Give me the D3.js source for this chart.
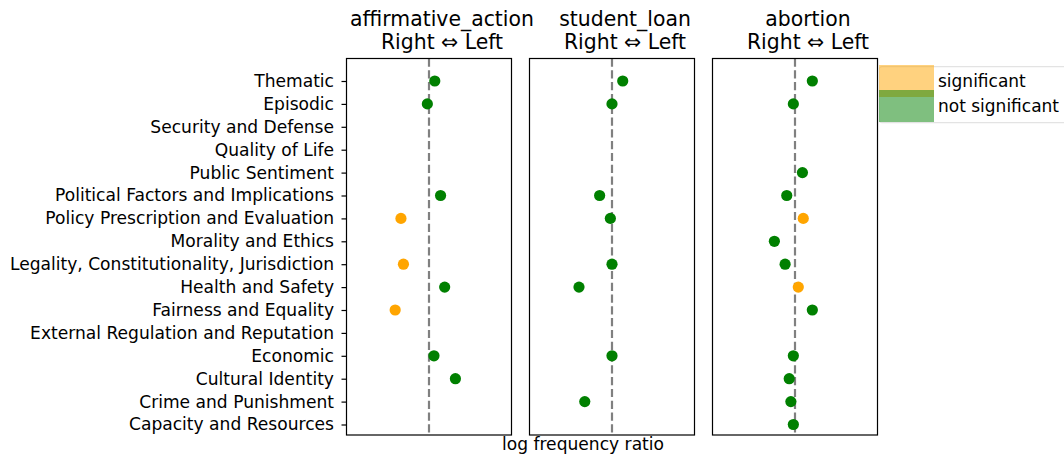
<!DOCTYPE html>
<html>
<head>
<meta charset="utf-8">
<script src="https://cdn.jsdelivr.net/npm/d3@7"></script>
<style>
  body { margin: 0; background: #fff; }
  svg { font-family: 'DejaVu Sans', sans-serif; }
</style>
</head>
<body>
<div id="chart"></div>
<script>
// frame categories, top to bottom
const categories = [
  'Thematic',
  'Episodic',
  'Security and Defense',
  'Quality of Life',
  'Public Sentiment',
  'Political Factors and Implications',
  'Policy Prescription and Evaluation',
  'Morality and Ethics',
  'Legality, Constitutionality, Jurisdiction',
  'Health and Safety',
  'Fairness and Equality',
  'External Regulation and Reputation',
  'Economic',
  'Cultural Identity',
  'Crime and Punishment',
  'Capacity and Resources',
];

const topics = ['affirmative_action', 'student_loan', 'abortion'];

// log frequency ratio per category (null = not shown)
const affirmativeValues = [0.07, -0.02, null, null, null, 0.14, -0.34, null, -0.31, 0.19, -0.41, null, 0.06, 0.32, null, null];
const studentLoanValues = [0.13, 0.0, null, null, null, -0.15, -0.02, null, 0.0, -0.4, null, null, 0.0, null, -0.33, null];
const abortionValues = [0.21, -0.02, null, null, 0.09, -0.1, 0.1, -0.25, -0.12, 0.04, 0.21, null, -0.02, -0.07, -0.05, -0.02];

// 1 = significant
const affirmativeSig = [0, 0, 0, 0, 0, 0, 1, 0, 1, 0, 1, 0, 0, 0, 0, 0];
const studentLoanSig = [0, 0, 0, 0, 0, 0, 0, 0, 0, 0, 0, 0, 0, 0, 0, 0];
const abortionSig = [0, 0, 0, 0, 0, 0, 1, 0, 0, 1, 0, 0, 0, 0, 0, 0];

const seriesValues = [affirmativeValues, studentLoanValues, abortionValues];
const seriesSig = [affirmativeSig, studentLoanSig, abortionSig];

const legendLabels = ['significant', 'not significant'];
const colors = ['#FFA500', '#008000'];

const width = 1064,
  height = 457,
  margin = { top: 58.5, left: 346.5 },
  panelW = 165,
  panelH = 376.5,
  gap = 18;

const svg = d3
  .select('#chart')
  .append('svg')
  .attr('width', width)
  .attr('height', height);

const x = d3.scaleLinear().domain([-1, 1]).range([0, panelW]);
const y = d3.scalePoint().domain(categories).range([22.5, 366]);

topics.forEach((topic, p) => {
  const g = svg
    .append('g')
    .attr('transform', `translate(${margin.left + p * (panelW + gap)}, ${margin.top})`);

  // zero reference line
  g.append('line')
    .attr('x1', x(0))
    .attr('x2', x(0))
    .attr('y1', 0)
    .attr('y2', panelH)
    .attr('stroke', '#808080')
    .attr('stroke-width', 2.2)
    .attr('stroke-dasharray', '8.2,3.6');

  const points = categories
    .map((c, i) => ({ cat: c, value: seriesValues[p][i], sig: seriesSig[p][i] }))
    .filter((d) => d.value !== null);

  g.selectAll('.dot')
    .data(points)
    .join('circle')
    .attr('class', 'dot')
    .attr('cx', (d) => x(d.value))
    .attr('cy', (d) => y(d.cat))
    .attr('r', 5.6)
    .attr('fill', (d) => (d.sig ? colors[0] : colors[1]));

  g.append('rect')
    .attr('width', panelW)
    .attr('height', panelH)
    .attr('fill', 'none')
    .attr('stroke', '#000')
    .attr('stroke-width', 1.2);

  if (p === 0) {
    const yAxis = g.append('g').call(d3.axisLeft(y).tickSize(5).tickPadding(7.5));
    yAxis.select('.domain').remove();
    yAxis.selectAll('.tick line').attr('stroke', '#000').attr('stroke-width', 1.2);
    yAxis
      .selectAll('.tick text')
      .attr('font-size', 17.1)
      .attr('font-family', "'DejaVu Sans', sans-serif")
      .attr('fill', '#000');
  }

  const title = g
    .append('text')
    .attr('text-anchor', 'middle')
    .attr('font-size', 20.4)
    .attr('fill', '#000');
  title.append('tspan').attr('x', panelW / 2 + 13).attr('y', 26 - margin.top).text(topic);
  title.append('tspan').attr('x', panelW / 2 + 13).attr('y', 49 - margin.top).text('Right \u21d4 Left');
});

svg
  .append('text')
  .attr('x', 583)
  .attr('y', 450)
  .attr('text-anchor', 'middle')
  .attr('font-size', 17.1)
  .text('log frequency ratio');

// legend
const legend = svg.append('g').attr('transform', 'translate(879, 65)');
legend
  .append('rect')
  .attr('x', 0)
  .attr('y', 1.7)
  .attr('width', 200)
  .attr('height', 56)
  .attr('rx', 3)
  .attr('fill', '#fff')
  .attr('stroke', '#e3e3e3')
  .attr('stroke-width', 1.2);

legendLabels.forEach((label, i) => {
  legend
    .append('rect')
    .attr('x', 0)
    .attr('y', i * 25)
    .attr('width', 55)
    .attr('height', 32)
    .attr('fill', colors[i])
    .attr('fill-opacity', 0.5);
  legend
    .append('text')
    .attr('x', 59)
    .attr('y', 21.7 + i * 25)
    .attr('font-size', 17)
    .text(label);
});
</script>
</body>
</html>
